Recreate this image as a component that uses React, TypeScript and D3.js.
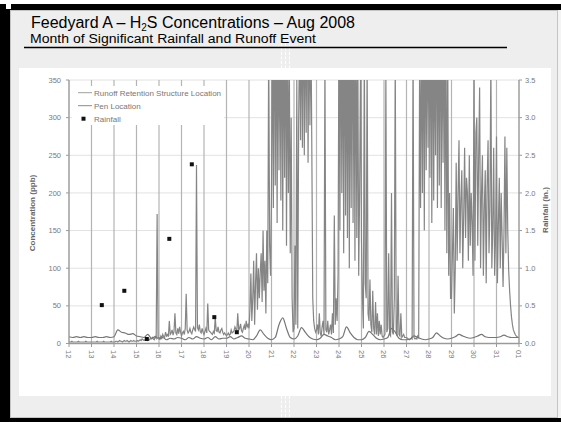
import React, { useRef, useEffect } from "react";
import * as d3 from "d3";

// Runoff retention structure, hourly H2S (ppb) starting Aug 12 00:00
const runoffPpb = [
  2, 2, 2, 3, 2, 2, 2, 2, 2, 2, 3, 2, 2, 2, 2, 2, 2, 2, 3, 2, 2, 2, 2, 2, // 12
  2, 2, 2, 2, 2, 2, 3, 2, 2, 2, 2, 2, 2, 3, 2, 2, 2, 2, 2, 2, 2, 3, 2, 2, // 13
  2, 2, 3, 3, 2, 3, 4, 3, 3, 2, 3, 4, 3, 3, 4, 3, 2, 3, 4, 3, 3, 4, 3, 3, // 14
  3, 4, 3, 4, 5, 4, 6, 5, 4, 5, 6, 5, 4, 6, 5, 7, 6, 8, 6, 5, 9, 7, 172, 8, // 15
  8, 6, 10, 7, 12, 9, 8, 15, 10, 12, 9, 30, 12, 14, 18, 11, 16, 40, 14, 12, 20, 13, 22, 15, // 16
  10, 14, 16, 12, 20, 66, 18, 14, 16, 20, 15, 13, 18, 22, 19, 16, 237, 21, 18, 25, 16, 14, 20, 15, // 17
  12, 16, 20, 14, 53, 18, 16, 15, 13, 12, 16, 14, 35, 17, 16, 22, 15, 14, 18, 20, 15, 12, 14, 12, // 18
  10, 12, 14, 11, 12, 18, 14, 15, 17, 22, 19, 16, 40, 18, 20, 26, 17, 15, 20, 24, 18, 30, 22, 25, // 19
  20, 45, 93, 30, 60, 110, 25, 80, 120, 45, 100, 60, 95, 120, 55, 150, 70, 110, 40, 150, 80, 400, 130, 90, // 20
  200, 450, 180, 520, 210, 480, 160, 500, 230, 460, 190, 510, 150, 470, 220, 490, 130, 440, 200, 380, 120, 300, 60, 15, // 21
  20, 130, 25, 350, 20, 300, 420, 270, 460, 260, 510, 250, 480, 280, 520, 240, 470, 290, 440, 260, 60, 30, 20, 15, // 22
  18, 25, 12, 40, 14, 10, 22, 30, 12, 380, 18, 15, 30, 12, 18, 25, 12, 40, 14, 170, 25, 60, 30, 90, // 23
  450, 150, 500, 200, 480, 120, 520, 170, 440, 140, 500, 100, 470, 180, 530, 160, 460, 110, 490, 140, 420, 90, 200, 380, // 24
  137, 60, 20, 400, 80, 60, 380, 40, 30, 85, 25, 15, 70, 20, 12, 55, 12, 40, 10, 30, 12, 25, 10, 8, // 25
  10, 12, 360, 15, 20, 120, 12, 10, 200, 15, 12, 60, 380, 14, 10, 90, 12, 10, 40, 8, 10, 12, 8, 8, // 26
  8, 7, 6, 5, 6, 7, 6, 400, 8, 6, 7, 6, 10, 8, 380, 180, 450, 200, 480, 150, 500, 230, 470, 260, // 27
  470, 220, 500, 160, 520, 190, 430, 250, 510, 180, 480, 210, 520, 180, 460, 240, 500, 150, 460, 120, 380, 90, 200, 60, // 28
  60, 120, 180, 40, 100, 240, 110, 200, 270, 120, 190, 230, 100, 170, 260, 140, 220, 200, 110, 250, 130, 200, 160, 90, // 29
  360, 110, 280, 300, 130, 250, 340, 100, 200, 250, 90, 180, 230, 80, 210, 270, 120, 180, 380, 100, 150, 260, 90, 140, // 30
  275, 80, 160, 220, 100, 200, 140, 75, 150, 275, 120, 260, 150, 97, 70, 50, 35, 25, 18, 15, 12, 10, 9, 8, // 31
  8,
];

// Pen location, every 4 hours (ppb)
const penPpb = [
  9, 8, 9, 8, 9, 8, // 12
  8, 9, 8, 8, 9, 8, // 13
  9, 18, 15, 14, 12, 13, // 14
  10, 9, 8, 12, 7, 9, // 15
  6, 8, 5, 7, 6, 8, // 16
  7, 5, 8, 6, 9, 7, // 17
  6, 8, 5, 9, 6, 7, // 18
  7, 9, 6, 8, 10, 7, // 19
  6, 5, 10, 18, 12, 7, // 20
  5, 8, 25, 34, 20, 8, // 21
  6, 10, 21, 15, 9, 6, // 22
  5, 7, 12, 10, 8, 5, // 23
  6, 9, 22, 14, 8, 5, // 24
  5, 8, 16, 12, 7, 5, // 25
  6, 8, 20, 15, 7, 5, // 26
  5, 6, 10, 8, 6, 5, // 27
  6, 8, 14, 10, 7, 6, // 28
  7, 9, 12, 10, 8, 7, // 29
  8, 10, 12, 9, 8, 8, // 30
  8, 9, 11, 9, 8, 8, // 31
  8,
];

const rainDays = [13, 14, 15, 16, 17, 18, 19];
const rainInches = [0.51, 0.7, 0.06, 1.39, 2.38, 0.35, 0.15];

const concTicks = [0, 50, 100, 150, 200, 250, 300, 350];
const rainTicks = [0, 0.5, 1, 1.5, 2, 2.5, 3, 3.5];
const legendLabels = ["Runoff Retention Structure Location", "Pen Location", "Rainfall"];

const FONT = "'Liberation Sans', Arial, sans-serif";

const App = () => {
  const svgRef = useRef<SVGSVGElement>(null);

  useEffect(() => {
    const svg = d3.select(svgRef.current);
    svg.selectAll("*").remove();

    // slide frame
    svg.append("rect").attr("width", 561).attr("height", 422).attr("fill", "#fff");
    svg.append("rect").attr("x", 0).attr("y", 4).attr("width", 561).attr("height", 418).attr("fill", "#000");
    svg.append("rect").attr("x", 6).attr("y", 4).attr("width", 5).attr("height", 5).attr("fill", "#fff");
    svg.append("rect").attr("x", 558).attr("y", 10).attr("width", 3).attr("height", 408).attr("fill", "#f4f4f4");
    svg.append("rect")
      .attr("x", 10.5).attr("y", 10.5).attr("width", 547).attr("height", 407)
      .attr("fill", "#eeeeee").attr("stroke", "#c4c4c4");

    // slide artifacts (dashed marks in middle)
    [281.5, 285.5, 289.5].forEach(xx => {
      [[43, 68], [396, 417]].forEach(([a, b]) => {
        svg.append("line")
          .attr("x1", xx).attr("x2", xx).attr("y1", a).attr("y2", b)
          .attr("stroke", "#fff").attr("stroke-dasharray", "3,1.5");
      });
    });

    // title
    const title = svg.append("text")
      .attr("x", 31).attr("y", 27.5)
      .attr("font-family", FONT).attr("font-size", 16).attr("fill", "#000");
    title.append("tspan").text("Feedyard A – H");
    title.append("tspan").attr("font-size", 10).attr("dy", 3).text("2");
    title.append("tspan").attr("dy", -3).text("S Concentrations – Aug 2008");

    svg.append("text")
      .attr("x", 30).attr("y", 42.5)
      .attr("font-family", FONT).attr("font-size", 12.5)
      .attr("textLength", 286).attr("lengthAdjust", "spacingAndGlyphs")
      .text("Month of Significant Rainfall and Runoff Event");

    svg.append("line")
      .attr("x1", 24).attr("x2", 507).attr("y1", 47.5).attr("y2", 47.5)
      .attr("stroke", "#000").attr("stroke-width", 1.5);

    // chart panel
    svg.append("rect").attr("x", 19).attr("y", 68).attr("width", 532).attr("height", 328).attr("fill", "#fff");

    const x0 = 69, x1 = 519, yTop = 80, yBot = 343.5;
    const start = new Date(2008, 7, 12);
    const end = new Date(2008, 8, 1);
    const xScale = d3.scaleTime().domain([start, end]).range([x0, x1]);
    const yScale = d3.scaleLinear().domain([0, 350]).range([yBot, yTop]);
    const y2Scale = d3.scaleLinear().domain([0, 3.5]).range([yBot, yTop]);
    const days = d3.timeDay.range(start, d3.timeDay.offset(end, 1));

    const g = svg.append("g");

    // gridlines
    g.selectAll(".hgrid").data(concTicks.slice(1)).enter().append("line")
      .attr("x1", x0).attr("x2", x1)
      .attr("y1", d => yScale(d)).attr("y2", d => yScale(d))
      .attr("stroke", "#e2e2e2");
    g.selectAll(".vgrid").data(days).enter().append("line")
      .attr("x1", d => xScale(d)).attr("x2", d => xScale(d))
      .attr("y1", yTop).attr("y2", yBot)
      .attr("stroke", "#b4b4b4").attr("stroke-width", 1.2);

    // series
    svg.append("clipPath").attr("id", "plotClip").append("rect")
      .attr("x", x0).attr("y", yTop).attr("width", x1 - x0).attr("height", yBot - yTop);

    const hourDate = (h: number) => d3.timeHour.offset(start, h);
    const runoffLine = d3.line<number>()
      .x((d, i) => xScale(hourDate(i)))
      .y(d => yScale(d));
    const penLine = d3.line<number>()
      .x((d, i) => xScale(hourDate(i * 4)))
      .y(d => yScale(d))
      .curve(d3.curveMonotoneX);

    const plot = g.append("g").attr("clip-path", "url(#plotClip)");
    plot.append("path").datum(runoffPpb)
      .attr("d", runoffLine).attr("fill", "none")
      .attr("stroke", "#858585").attr("stroke-width", 1.2);
    plot.append("path").datum(penPpb)
      .attr("d", penLine).attr("fill", "none")
      .attr("stroke", "#767676").attr("stroke-width", 1.2);

    // rainfall markers
    g.selectAll(".rain").data(rainDays).enter().append("rect")
      .attr("x", d => xScale(d3.timeHour.offset(new Date(2008, 7, d), 11)) - 2)
      .attr("y", (d, i) => y2Scale(rainInches[i]) - 2)
      .attr("width", 4).attr("height", 4)
      .attr("fill", "#111");

    // axes
    const axisColor = "#9a9a9a";
    g.append("line").attr("x1", x0).attr("x2", x0).attr("y1", yTop).attr("y2", yBot).attr("stroke", axisColor);
    g.append("line").attr("x1", x1).attr("x2", x1).attr("y1", yTop).attr("y2", yBot).attr("stroke", axisColor);
    g.append("line").attr("x1", x0).attr("x2", x1).attr("y1", yBot).attr("y2", yBot)
      .attr("stroke", axisColor).attr("stroke-width", 1.5);

    g.selectAll(".lt").data(concTicks).enter().append("line")
      .attr("x1", x0 - 3).attr("x2", x0).attr("y1", d => yScale(d)).attr("y2", d => yScale(d))
      .attr("stroke", axisColor);
    g.selectAll(".ll").data(concTicks).enter().append("text")
      .attr("x", 61).attr("y", d => yScale(d)).attr("dy", "0.35em")
      .attr("text-anchor", "end").attr("font-family", FONT).attr("font-size", 7.5).attr("fill", "#7a7a7a")
      .text(d => d);

    g.selectAll(".rt").data(rainTicks).enter().append("line")
      .attr("x1", x1).attr("x2", x1 + 3).attr("y1", d => y2Scale(d)).attr("y2", d => y2Scale(d))
      .attr("stroke", axisColor);
    g.selectAll(".rl").data(rainTicks).enter().append("text")
      .attr("x", 525).attr("y", d => y2Scale(d)).attr("dy", "0.35em")
      .attr("font-family", FONT).attr("font-size", 7.5).attr("fill", "#7a7a7a")
      .text(d => d3.format(".1f")(d));

    g.selectAll(".bt").data(days).enter().append("line")
      .attr("x1", d => xScale(d)).attr("x2", d => xScale(d)).attr("y1", yBot).attr("y2", yBot + 3.5)
      .attr("stroke", axisColor);
    g.selectAll(".bl").data(days).enter().append("text")
      .attr("transform", d => `translate(${xScale(d)},${yBot + 6.5}) rotate(90)`)
      .attr("dy", "0.35em")
      .attr("font-family", FONT).attr("font-size", 7.5).attr("fill", "#7a7a7a")
      .text(d => d3.timeFormat("%d")(d));

    // axis titles
    g.append("text")
      .attr("transform", "translate(35,213) rotate(-90)")
      .attr("text-anchor", "middle").attr("font-family", FONT).attr("font-size", 8)
      .attr("font-weight", "bold").attr("fill", "#666")
      .text("Concentration (ppb)");
    g.append("text")
      .attr("transform", "translate(548,210) rotate(-90)")
      .attr("text-anchor", "middle").attr("font-family", FONT).attr("font-size", 8)
      .attr("font-weight", "bold").attr("fill", "#666")
      .text("Rainfall (in.)");

    // legend
    const legend = g.append("g");
    legend.append("rect").attr("x", 72).attr("y", 86).attr("width", 152).attr("height", 39).attr("fill", "#fff");
    const legendColors = ["#a0a0a0", "#8a8a8a", "#111"];
    legendLabels.forEach((label, i) => {
      const ly = 92.7 + i * 13;
      if (i < 2) {
        legend.append("line").attr("x1", 78).attr("x2", 92).attr("y1", ly).attr("y2", ly)
          .attr("stroke", legendColors[i]);
      } else {
        legend.append("rect").attr("x", 81.5).attr("y", ly - 2).attr("width", 4).attr("height", 4)
          .attr("fill", legendColors[i]);
      }
      legend.append("text")
        .attr("x", 94).attr("y", ly).attr("dy", "0.35em")
        .attr("font-family", FONT).attr("font-size", 8).attr("fill", "#777")
        .text(label);
    });
  }, []);

  return (
    <svg ref={svgRef} width={561} height={422} style={{ position: "absolute", left: 0, top: 0 }} />
  );
};

export default App;
